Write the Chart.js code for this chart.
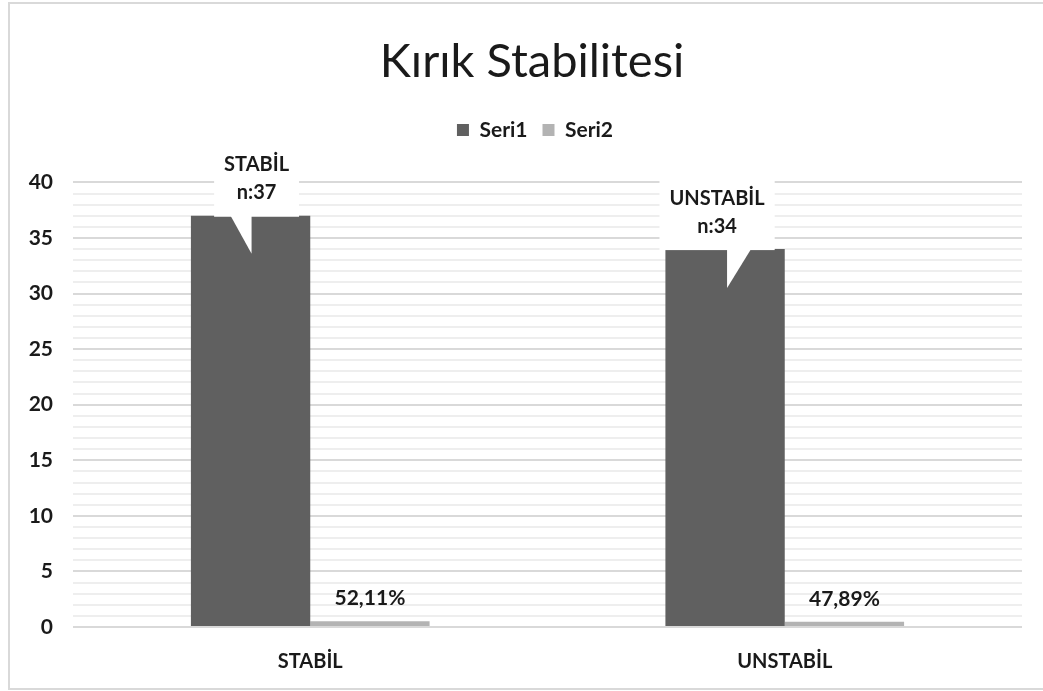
<!DOCTYPE html>
<html>
<head>
<meta charset="utf-8">
<title>Kırık Stabilitesi</title>
<script src="https://cdn.jsdelivr.net/npm/chart.js@4.4.1/dist/chart.umd.min.js"></script>
<style>
  html, body { margin: 0; padding: 0; background: #fff; overflow: hidden; }
  #frame {
    position: absolute; left: 8px; top: 2px;
    width: 1040px; height: 684px;
    border: 2px solid #d9d9d9; border-right: none;
  }
  #wrap { position: absolute; left: 0; top: 0; width: 1043px; height: 691px; }
</style>
</head>
<body>
<div id="frame"></div>
<div id="wrap"><canvas id="stabChart"></canvas></div>
<script>
const categories = ['STABİL', 'UNSTABİL'];
const seri1 = [37, 34];            // hasta sayısı
const seri2 = [0.5211, 0.4789];    // oran
const yTicks = [0, 5, 10, 15, 20, 25, 30, 35, 40];

const FONT = 'Lato, "Open Sans", sans-serif';
const TEXT = '#1a1a1a';

const pct = v => (v * 100).toFixed(2).replace('.', ',') + '%';

// the frame is wider than the window, so title and legend sit right of canvas centre
const headerShift = {
  id: 'headerShift',
  afterLayout(chart, args, opts) {
    const move = (box, dx) => { if (box) { box.left += dx; box.right += dx; } };
    move(chart.titleBlock, opts.title);
    move(chart.legend, opts.legend);
  }
};

// white speech-bubble labels sitting on top of the Seri1 bars
const calloutPlugin = {
  id: 'callouts',
  afterDatasetsDraw(chart, args, opts) {
    const ctx = chart.ctx;
    const meta = chart.getDatasetMeta(0);
    ctx.save();
    ctx.font = 'bold 20px ' + FONT;
    meta.data.forEach((bar, i) => {
      const lines = [categories[i], 'n:' + seri1[i]];
      const w = Math.max(...lines.map(l => ctx.measureText(l).width)) + opts.padX * 2;
      const cx = bar.x + opts.shift[i];
      const bottom = bar.y;
      const wd = opts.wedges[i];

      ctx.fillStyle = '#fff';
      ctx.fillRect(cx - w / 2, bottom - opts.height, w, opts.height + 1);
      ctx.beginPath();
      ctx.moveTo(bar.x + wd[0], bottom);
      ctx.lineTo(bar.x + wd[1], bottom);
      ctx.lineTo(bar.x + wd[2], bottom + wd[3]);
      ctx.closePath();
      ctx.fill();

      ctx.fillStyle = TEXT;
      ctx.textAlign = 'center';
      ctx.textBaseline = 'middle';
      ctx.fillText(lines[0], cx, bottom - 51);
      ctx.fillText(lines[1], cx, bottom - 23);
    });
    ctx.restore();
  }
};

// percentage text above the thin Seri2 bars
const pctLabels = {
  id: 'pctLabels',
  afterDatasetsDraw(chart) {
    const ctx = chart.ctx;
    const meta = chart.getDatasetMeta(1);
    ctx.save();
    ctx.font = 'bold 21px ' + FONT;
    ctx.fillStyle = TEXT;
    ctx.textAlign = 'center';
    ctx.textBaseline = 'bottom';
    meta.data.forEach((bar, i) => {
      ctx.fillText(pct(seri2[i]), bar.x, bar.y - 12);
    });
    ctx.restore();
  }
};

const ctx = document.getElementById('stabChart').getContext('2d');
const stabChart = new Chart(ctx, {
  type: 'bar',
  data: {
    labels: categories,
    datasets: [
      { label: 'Seri1', data: seri1, backgroundColor: '#606060' },
      { label: 'Seri2', data: seri2, backgroundColor: '#b3b3b3' }
    ]
  },
  options: {
    responsive: true,
    maintainAspectRatio: false,
    animation: false,
    datasets: { bar: { categoryPercentage: 0.503, barPercentage: 1 } },
    layout: { padding: { left: 10, right: 21, top: 34, bottom: 4 } },
    scales: {
      x: {
        grid: { display: false },
        border: { display: false },
        ticks: { color: TEXT, font: { family: FONT, size: 20, weight: 'bold' }, padding: 15 },
        afterFit: s => { s.height = 60; }
      },
      y: {
        min: 0, max: 40,
        border: { display: false },
        grid: {
          drawTicks: false,
          lineWidth: 2,
          color: c => (yTicks.includes(c.tick.value) ? '#d9d9d9' : '#eeeeee')
        },
        ticks: {
          stepSize: 1,
          autoSkip: false,
          padding: 20,
          color: TEXT,
          font: { family: FONT, size: 21, weight: 'bold' },
          callback: v => (yTicks.includes(v) ? v : '')
        },
        afterFit: s => { s.width = 63; }
      }
    },
    plugins: {
      title: {
        display: true,
        text: 'Kırık Stabilitesi',
        color: TEXT,
        font: { family: FONT, size: 47, weight: 'normal' },
        padding: { top: 0, bottom: 14 }
      },
      // empty spacer between the legend and the plot area
      subtitle: {
        display: true,
        text: '',
        weight: 500,
        font: { size: 10 },
        padding: { top: 0, bottom: 20 }
      },
      legend: {
        labels: {
          color: TEXT,
          font: { family: FONT, size: 21, weight: 'bold' },
          boxWidth: 12, boxHeight: 12,
          padding: 15
        }
      },
      tooltip: { enabled: false },
      headerShift: { title: 16, legend: 19 },
      callouts: {
        padX: 10,
        height: 70,
        shift: [6, -8],
        wedges: [[-20, 1, 1, 38], [2, 26, 2, 39]]
      }
    }
  },
  plugins: [headerShift, calloutPlugin, pctLabels]
});
</script>
</body>
</html>
